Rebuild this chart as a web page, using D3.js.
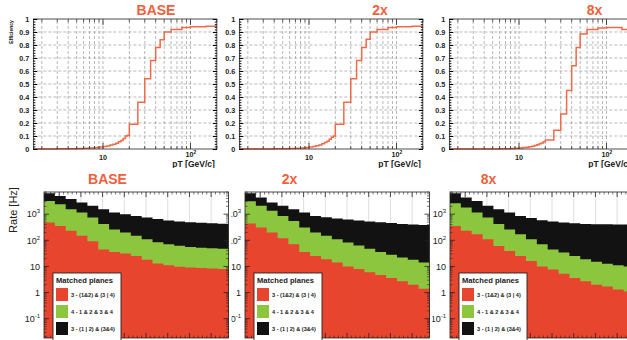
<!DOCTYPE html>
<html><head><meta charset="utf-8">
<script src="https://cdn.jsdelivr.net/npm/d3@7"></script>
<style>body{margin:0;background:#fff}svg{display:block;font-family:"Liberation Sans",Arial,sans-serif}</style>
</head><body>
<svg id="c" width="627" height="340"></svg>
<script>
// ---------------- DATA ----------------
const panelNames = ["BASE", "2x", "8x"];

// Efficiency vs pT (step histograms)
const effBinEdges = [1.6,2,3,4,5,6,7,8,9,10,11,12,13,14,15,16,17,18,19,20,25,30,35,40,45,50,60,80,100,150,200];
const effBase = [0,0,0.001,0.002,0.004,0.006,0.008,0.011,0.015,0.02,0.024,0.03,0.036,0.045,0.055,0.065,0.08,0.1,0.105,0.19,0.36,0.54,0.68,0.78,0.84,0.9,0.92,0.935,0.94,0.945];
const eff2x   = [0,0,0,0.001,0.002,0.003,0.005,0.008,0.012,0.016,0.02,0.025,0.03,0.04,0.05,0.06,0.075,0.09,0.1,0.19,0.36,0.54,0.68,0.78,0.845,0.9,0.92,0.935,0.94,0.945];
const eff8x   = [0,0,0,0,0,0.001,0.002,0.003,0.005,0.008,0.011,0.014,0.018,0.022,0.027,0.033,0.04,0.047,0.055,0.07,0.145,0.27,0.45,0.64,0.78,0.885,0.92,0.93,0.935,0.92];
const effYTicks = [0,0.1,0.2,0.3,0.4,0.5,0.6,0.7,0.8,0.9,1];
const effYTickLabels = ["0","0.1","0.2","0.3","0.4","0.5","0.6","0.7","0.8","0.9","1"];
const effXGrid = [2,3,4,5,6,7,8,9,10,20,30,40,50,60,70,80,90,100];
const effXAxisTitle = "pT [GeV/c]";
const effYAxisTitle = "Efficiency";

// Rate vs threshold (overlaid histograms, log y)
const rateBinEdges = [1.5,4,6.5,9,11.5,14,16.5,19,21.5,24,26.5,29,31.5,34,36.5,39,41.5,44];
const rateBlackBase = [6300,5000,3800,2800,2100,1550,1170,1000,850,740,650,575,525,490,470,450,435];
const rateGreenBase = [3200,2400,1550,1170,740,420,260,200,150,110,85,71,62,56,52,50,48];
const rateRedBase   = [480,350,230,150,93,45,36,31,25,18,13,11,9.8,9.1,8.7,8.3,8.0];
const rateBlack2x = [6300,4400,2800,2100,1550,1170,850,760,690,630,575,525,490,460,425,405,390];
const rateGreen2x = [3100,2100,1350,850,550,310,200,150,110,83,63,48,36,28,22,18,14];
const rateRed2x   = [440,310,200,120,71,36,25,19,14,10,7.9,6.0,4.7,3.6,2.7,2.0,1.4];
const rateBlack8x = [6300,4400,3200,2100,1550,1170,850,710,590,525,480,450,425,415,410,405,405];
const rateGreen8x = [2600,1800,1170,740,420,260,170,110,71,45,34,25,19,15,12.6,11.2,10];
const rateRed8x   = [355,230,170,110,60,39,25,16,10,7.6,5.2,3.6,2.7,2.0,1.7,1.3,1.1];
const rateYTicks = [0.1,1,10,100,1000];
const rateYTickLabels = [["10","-1"],["1",""],["10",""],["10","2"],["10","3"]];
const rateXGrid = [5,10,15,20,25,30,35,40];
const rateYAxisTitle = "Rate [Hz]";
const legendTitle = "Matched planes";
const legendLabels = ["3 - (1&2) & (3 | 4)", "4 - 1 & 2 & 3 & 4", "3 - (1 | 2) & (3&4)"];

// ---------------- STYLE ----------------
const titleColor = "#f0603c";
const lineColor = "#f26a4a";
const redFill = "#e8452e", greenFill = "#8cc63f", blackFill = "#121212";

const svg = d3.select("#c");

// ---------------- TOP ROW: efficiency ----------------
const effSeries = [effBase, eff2x, eff8x];
const topX10 = [103, 309, 519];
const decade = 87.5;
const titleTopX = [156, 380, 594.5];
const yEff = d3.scaleLinear().domain([0, 1]).range([149, 19]);

effSeries.forEach((vals, i) => {
  const left = topX10[i] - decade * (1 - Math.log10(1.6));
  const right = topX10[i] + decade * Math.log10(20);
  const x = d3.scaleLog().domain([1.6, 200]).range([left, right]);
  const g = svg.append("g");

  // grid
  g.selectAll("line.vg").data(effXGrid).join("line")
    .attr("x1", d => x(d)).attr("x2", d => x(d)).attr("y1", yEff(0)).attr("y2", yEff(1))
    .attr("stroke", "#8a8a8a").attr("stroke-width", 0.6).attr("stroke-dasharray", "3,2");
  g.selectAll("line.hg").data(effYTicks.slice(1, -1)).join("line")
    .attr("x1", left).attr("x2", right).attr("y1", d => yEff(d)).attr("y2", d => yEff(d))
    .attr("stroke", "#8a8a8a").attr("stroke-width", 0.6).attr("stroke-dasharray", "3,2");

  // step curve
  const pts = vals.map((v, k) => [effBinEdges[k], v]);
  pts.push([effBinEdges[effBinEdges.length - 1], vals[vals.length - 1]]);
  g.append("path").datum(pts)
    .attr("d", d3.line().x(d => x(d[0])).y(d => yEff(d[1])).curve(d3.curveStepAfter))
    .attr("fill", "none").attr("stroke", lineColor).attr("stroke-width", 1.5);

  // frame
  g.append("rect").attr("x", left).attr("y", yEff(1)).attr("width", right - left).attr("height", yEff(0) - yEff(1))
    .attr("fill", "none").attr("stroke", "#222").attr("stroke-width", 0.8);

  // y axis left
  const minorY = d3.range(0, 1.0001, 0.02);
  g.append("g").attr("transform", `translate(${left},0)`)
    .call(d3.axisLeft(yEff).tickValues(minorY).tickSize(-2).tickSizeOuter(0).tickFormat(""))
    .call(s => s.select(".domain").remove());
  g.append("g").attr("transform", `translate(${left},0)`)
    .call(d3.axisLeft(yEff).tickValues(effYTicks).tickSize(-4).tickSizeOuter(0).tickPadding(4)
      .tickFormat((d, k) => effYTickLabels[k]))
    .call(s => s.select(".domain").remove())
    .call(s => s.selectAll("text").attr("font-size", 7.2).attr("font-weight", "bold").attr("fill", "#222"));
  // y axis right
  g.append("g").attr("transform", `translate(${right},0)`)
    .call(d3.axisRight(yEff).tickValues(minorY).tickSize(-2).tickSizeOuter(0).tickFormat(""))
    .call(s => s.select(".domain").remove());
  g.append("g").attr("transform", `translate(${right},0)`)
    .call(d3.axisRight(yEff).tickValues(effYTicks).tickSize(-4).tickSizeOuter(0).tickFormat(""))
    .call(s => s.select(".domain").remove());
  // x axis ticks bottom/top
  const xMinor = [2,3,4,5,6,7,8,9,20,30,40,50,60,70,80,90,200];
  [[yEff(0), 1], [yEff(1), -1]].forEach(([yy, dir]) => {
    g.selectAll(null).data(xMinor).join("line")
      .attr("x1", d => x(d)).attr("x2", d => x(d)).attr("y1", yy).attr("y2", yy - 3 * dir)
      .attr("stroke", "#222").attr("stroke-width", 0.7);
    g.selectAll(null).data([10, 100]).join("line")
      .attr("x1", d => x(d)).attr("x2", d => x(d)).attr("y1", yy).attr("y2", yy - 6 * dir)
      .attr("stroke", "#222").attr("stroke-width", 0.8);
  });
  // x labels
  g.append("text").attr("x", x(10)).attr("y", 160).attr("text-anchor", "middle")
    .attr("font-size", 7.2).attr("font-weight", "bold").attr("fill", "#222").text("10");
  const t100 = g.append("text").attr("x", x(100) - 5).attr("y", 157)
    .attr("font-size", 7.2).attr("font-weight", "bold").attr("fill", "#222");
  t100.append("tspan").text("10");
  t100.append("tspan").attr("dy", -3).attr("font-size", 5).text("2");
  g.append("text").attr("x", right - 2).attr("y", 167).attr("text-anchor", "end")
    .attr("font-size", 8.5).attr("font-weight", "bold").attr("fill", "#222").text(effXAxisTitle);

  if (i === 0) {
    g.append("text").attr("transform", `translate(13,32) rotate(-90)`).attr("text-anchor", "middle")
      .attr("font-size", 5).attr("font-weight", "bold").attr("fill", "#222").text(effYAxisTitle);
  }
  // title
  svg.append("text").attr("x", titleTopX[i]).attr("y", 15).attr("text-anchor", "middle")
    .attr("font-size", 14).attr("font-weight", "bold").attr("fill", titleColor).text(panelNames[i]);
});

// ---------------- BOTTOM ROW: rates ----------------
const rateSeries = [
  [rateBlackBase, rateGreenBase, rateRedBase],
  [rateBlack2x, rateGreen2x, rateRed2x],
  [rateBlack8x, rateGreen8x, rateRed8x]
];
const botLeft = [44, 245, 450];
const botW = 184.5;
const bgLeft = [0, 229, 432];
const titleBotX = [107.5, 289.5, 488.5];
const yRate = d3.scaleLog().domain([Math.pow(10, -1.74), Math.pow(10, 3.85)]).range([338, 192]);
const fills = [blackFill, greenFill, redFill];

[2, 1, 0].forEach(i => {
  const left = botLeft[i], right = left + botW;
  const x = d3.scaleLinear().domain([rateBinEdges[0], rateBinEdges[rateBinEdges.length - 1]]).range([left, right]);
  const g = svg.append("g");
  g.append("rect").attr("x", bgLeft[i]).attr("y", 168).attr("width", right + 3 - bgLeft[i]).attr("height", 172).attr("fill", "#fff");

  // grid
  g.selectAll(null).data(rateXGrid).join("line")
    .attr("x1", d => x(d)).attr("x2", d => x(d)).attr("y1", 192).attr("y2", 338)
    .attr("stroke", "#c8c8c8").attr("stroke-width", 0.6);

  // histograms: black, green, red (overlaid)
  rateSeries[i].forEach((vals, s) => {
    const pts = vals.map((v, k) => [rateBinEdges[k], v]);
    pts.push([rateBinEdges[rateBinEdges.length - 1], vals[vals.length - 1]]);
    g.append("path").datum(pts)
      .attr("d", d3.area().x(d => x(d[0])).y0(338).y1(d => yRate(d[1])).curve(d3.curveStepAfter))
      .attr("fill", fills[s]);
  });

  // frame
  g.append("rect").attr("x", left).attr("y", 192).attr("width", botW).attr("height", 146)
    .attr("fill", "none").attr("stroke", "#222").attr("stroke-width", 0.8);

  // y ticks (log)
  const minorLog = [];
  for (let e = -2; e <= 3; e++) for (let m = 2; m <= 9; m++) {
    const v = m * Math.pow(10, e);
    if (v > yRate.domain()[0] && v < yRate.domain()[1]) minorLog.push(v);
  }
  [[left, 1], [right, -1]].forEach(([xx, dir]) => {
    g.selectAll(null).data(minorLog).join("line")
      .attr("x1", xx).attr("x2", xx + 2.5 * dir).attr("y1", d => yRate(d)).attr("y2", d => yRate(d))
      .attr("stroke", "#222").attr("stroke-width", 0.6);
    g.selectAll(null).data(rateYTicks).join("line")
      .attr("x1", xx).attr("x2", xx + 5 * dir).attr("y1", d => yRate(d)).attr("y2", d => yRate(d))
      .attr("stroke", "#222").attr("stroke-width", 0.8);
  });
  // x ticks top/bottom
  const xMinorT = d3.range(2, 44, 1).filter(d => d % 5 !== 0);
  [[192, 1], [338, -1]].forEach(([yy, dir]) => {
    g.selectAll(null).data(xMinorT).join("line")
      .attr("x1", d => x(d)).attr("x2", d => x(d)).attr("y1", yy).attr("y2", yy + 2.5 * dir)
      .attr("stroke", "#222").attr("stroke-width", 0.6);
    g.selectAll(null).data(rateXGrid).join("line")
      .attr("x1", d => x(d)).attr("x2", d => x(d)).attr("y1", yy).attr("y2", yy + 5 * dir)
      .attr("stroke", "#222").attr("stroke-width", 0.8);
  });
  // y labels
  rateYTicks.forEach((v, k) => {
    const t = g.append("text").attr("x", left - 4).attr("y", yRate(v) + 3.2).attr("text-anchor", "end")
      .attr("font-size", 9).attr("fill", "#222");
    t.append("tspan").text(rateYTickLabels[k][0]);
    if (rateYTickLabels[k][1]) t.append("tspan").attr("dy", -4).attr("font-size", 6).text(rateYTickLabels[k][1]);
  });

  // legend
  const lx = left + 9, ly = 273;
  const lg = g.append("g");
  lg.append("rect").attr("x", lx).attr("y", ly).attr("width", 68).attr("height", 75)
    .attr("fill", "#fff").attr("stroke", "#222").attr("stroke-width", 0.9);
  lg.append("text").attr("x", lx + 3).attr("y", ly + 9.5).attr("font-size", 7.6).attr("font-weight", "bold")
    .attr("fill", "#222").text(legendTitle);
  const legFills = [redFill, greenFill, blackFill];
  const rowY = [ly + 15, ly + 32, ly + 49];
  legendLabels.forEach((lab, k) => {
    lg.append("rect").attr("x", lx + 3).attr("y", rowY[k]).attr("width", 12).attr("height", 13).attr("fill", legFills[k]);
    lg.append("text").attr("x", lx + 18).attr("y", rowY[k] + 8.5).attr("font-size", 5.6).attr("font-weight", "bold")
      .attr("fill", "#222").text(lab);
  });

  // title
  g.append("text").attr("x", titleBotX[i]).attr("y", 184).attr("text-anchor", "middle")
    .attr("font-size", 14).attr("font-weight", "bold").attr("fill", titleColor).text(panelNames[i]);

  if (i === 0) {
    g.append("text").attr("transform", `translate(17,210) rotate(-90)`).attr("text-anchor", "middle")
      .attr("font-size", 11).attr("fill", "#222").text(rateYAxisTitle);
  }
});
</script>
</body></html>
